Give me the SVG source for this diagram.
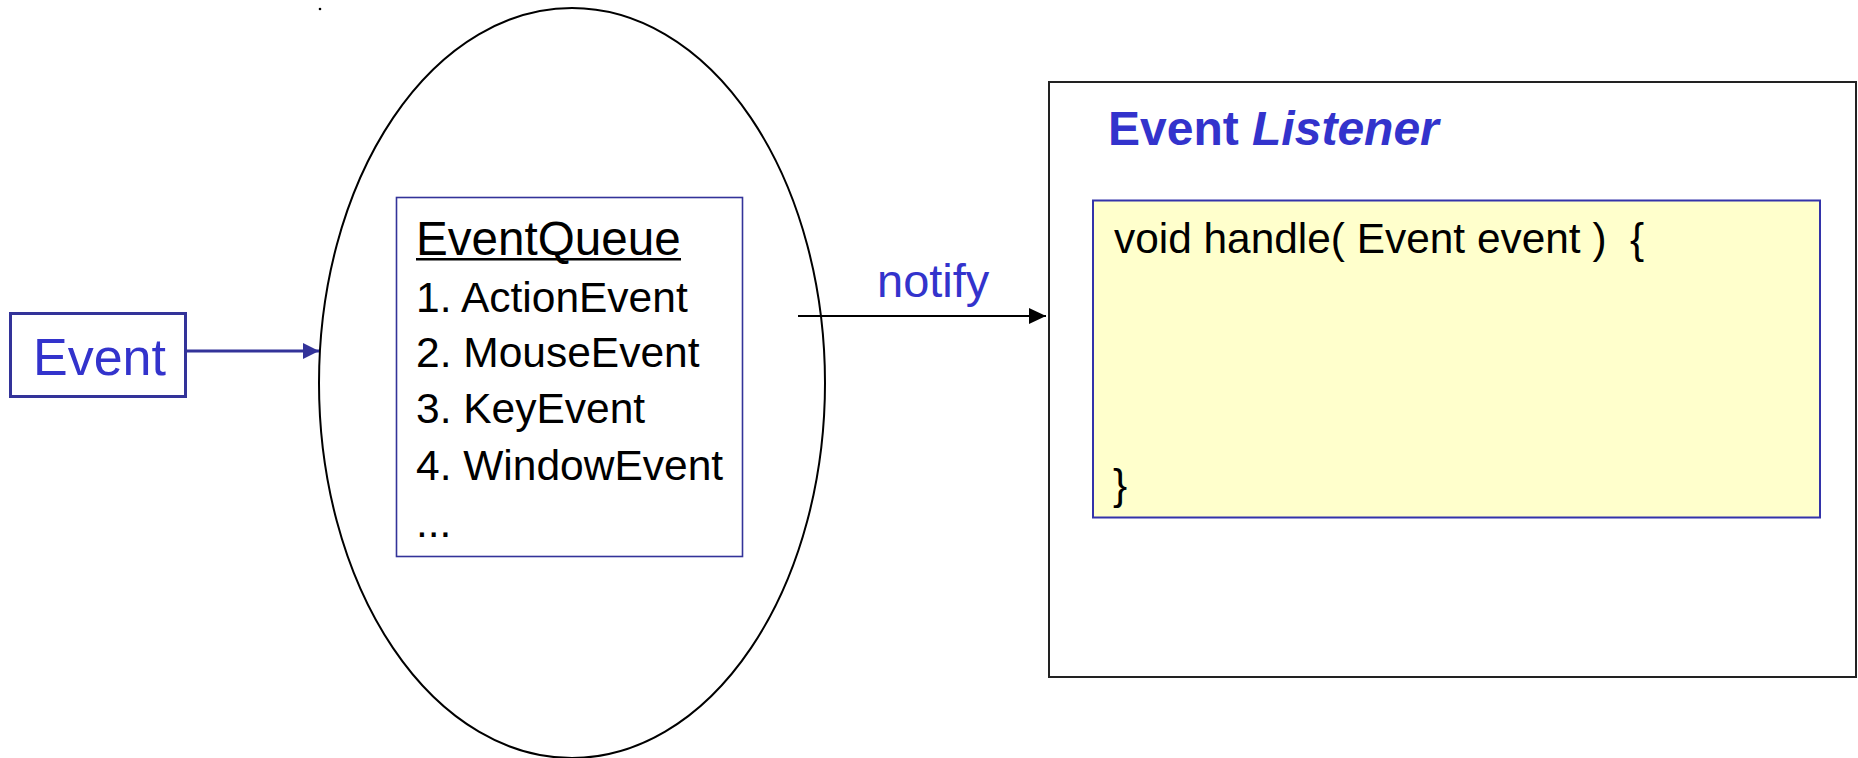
<svg xmlns="http://www.w3.org/2000/svg" width="1858" height="758" viewBox="0 0 1858 758">
  <style>
    text { font-family: "Liberation Sans", Arial, sans-serif; }
    .blue { fill: #3333cc; }
    .black { fill: #000000; }
    .list { font-size: 42.5px; }
    .code { font-size: 42.4px; }
  </style>
  <defs>
    <marker id="headBlue" markerWidth="16" markerHeight="16" refX="16" refY="8" orient="auto" markerUnits="userSpaceOnUse">
      <path d="M0,0 L16,8 L0,16 Z" fill="#333399"/>
    </marker>
    <marker id="headBlack" markerWidth="17" markerHeight="16" refX="17" refY="8" orient="auto" markerUnits="userSpaceOnUse">
      <path d="M0,0 L17,8 L0,16 Z" fill="#000000"/>
    </marker>
  </defs>
  <rect width="1858" height="758" fill="#ffffff"/>

  <!-- stray dot near the top left -->
  <circle cx="320" cy="9" r="1.3" fill="#000000"/>

  <!-- incoming event -->
  <g id="event">
    <rect x="10.5" y="313.5" width="175" height="83" fill="#ffffff" stroke="#333399" stroke-width="3"/>
    <text x="33" y="375" class="blue" font-size="52">Event</text>
  </g>

  <!-- dispatcher with its queue -->
  <g id="dispatcher">
    <ellipse cx="572" cy="383" rx="253" ry="375" fill="none" stroke="#000000" stroke-width="2"/>
  </g>

  <g id="event-queue">
    <rect x="396.5" y="197.5" width="346" height="359" fill="#ffffff" stroke="#333399" stroke-width="1.6"/>
    <text x="416" y="255" class="black" font-size="47.6">EventQueue</text>
    <rect x="416" y="258" width="265" height="2.5" fill="#000000"/>
    <text x="416" y="312" class="black list">1. ActionEvent</text>
    <text x="416" y="367" class="black list">2. MouseEvent</text>
    <text x="416" y="423" class="black list">3. KeyEvent</text>
    <text x="416" y="480" class="black list">4. WindowEvent</text>
    <text x="416" y="537" class="black list">...</text>
  </g>

  <!-- listener with its handler -->
  <g id="listener">
    <rect x="1049" y="82" width="807" height="595" fill="#ffffff" stroke="#222222" stroke-width="2"/>
    <text x="1108" y="145" class="blue" font-size="48" font-weight="bold">Event <tspan font-style="italic">Listener</tspan></text>
  </g>

  <g id="handler">
    <rect x="1093" y="200.5" width="727" height="317" fill="#ffffcc" stroke="#3333aa" stroke-width="2"/>
    <text x="1114" y="253" class="black code" xml:space="preserve">void handle( Event event )  {</text>
    <text x="1113" y="499" class="black code">}</text>
  </g>

  <!-- connectors -->
  <g id="connectors">
    <line x1="186" y1="351" x2="319" y2="351" stroke="#333399" stroke-width="3" marker-end="url(#headBlue)"/>
    <line x1="798" y1="316" x2="1046" y2="316" stroke="#000000" stroke-width="2" marker-end="url(#headBlack)"/>
    <text x="877" y="297" class="blue" font-size="47">notify</text>
  </g>
</svg>
